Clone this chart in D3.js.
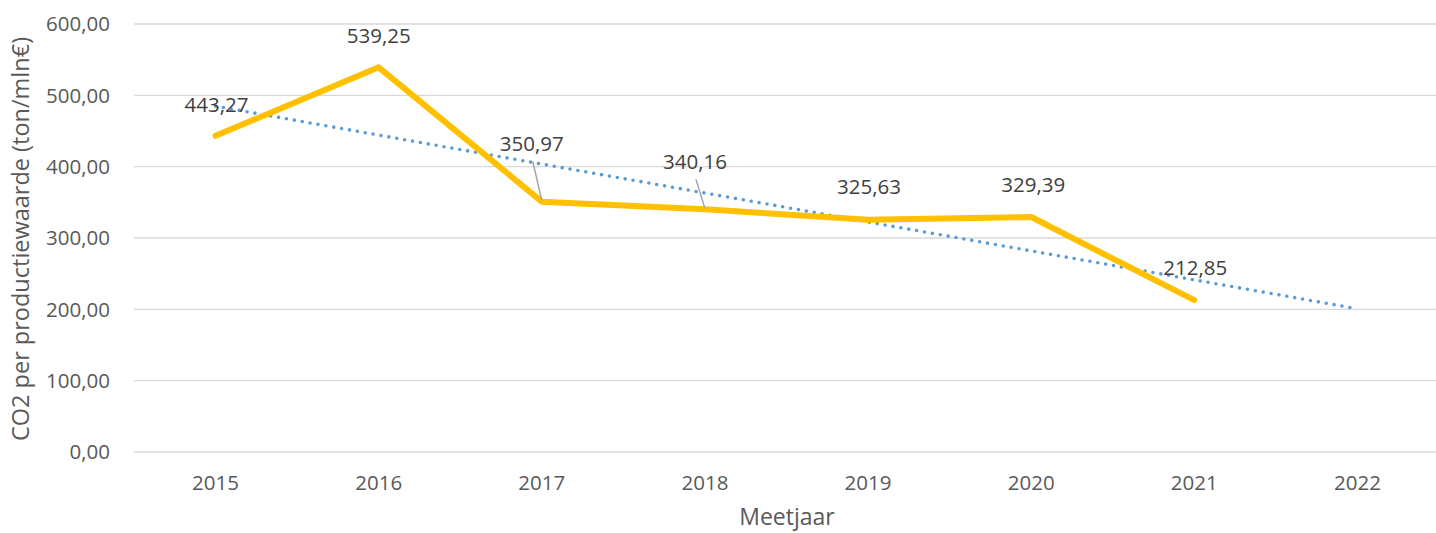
<!DOCTYPE html>
<html>
<head>
<meta charset="utf-8">
<script src="https://cdn.jsdelivr.net/npm/d3@7"></script>
<style>
  body { margin: 0; background: #fff; }
  svg text { font-family: "Open Sans", sans-serif; }
</style>
</head>
<body>
<div id="chart"></div>
<script>
(function () {

    const years = ['2015', '2016', '2017', '2018', '2019', '2020', '2021', '2022']
    const values = [443.27, 539.25, 350.97, 340.16, 325.63, 329.39, 212.85]
    const yTicks = [0, 100, 200, 300, 400, 500, 600]

    // label offsets from each point (px), with leader line for some
    const labelDx = [1, 0, -10, -10, 1, 2, 1]
    const labelDy = [-31, -32, -58, -48, -33, -32, -32]
    const leader = [false, false, true, true, false, false, false]

    const width = 1436
    const height = 533
    const margin = { top: 24, right: -3, bottom: 81, left: 134 }

    const svg = d3.select('#chart')
        .append('svg')
        .attr('width', width)
        .attr('height', height)

    const x = d3.scalePoint()
        .domain(years)
        .range([margin.left, width - margin.right])
        .padding(0.5)

    const y = d3.scaleLinear()
        .domain([0, 600])
        .range([height - margin.bottom, margin.top])

    const fmt = v => d3.format('.2f')(v).replace('.', ',')

    // gridlines
    svg.append('g')
        .selectAll('line')
        .data(yTicks)
        .join('line')
        .attr('x1', margin.left)
        .attr('x2', width - margin.right)
        .attr('y1', d => y(d))
        .attr('y2', d => y(d))
        .attr('stroke', '#d9d9d9')
        .attr('stroke-width', 1.3)

    svg.append('g')
        .selectAll('text')
        .data(yTicks)
        .join('text')
        .attr('x', margin.left - 24)
        .attr('y', d => y(d))
        .attr('dy', '0.35em')
        .attr('text-anchor', 'end')
        .attr('fill', '#595959')
        .attr('font-size', 20.5)
        .text(d => fmt(d))

    svg.append('g')
        .selectAll('text')
        .data(years)
        .join('text')
        .attr('x', d => x(d))
        .attr('y', y(0) + 38)
        .attr('text-anchor', 'middle')
        .attr('fill', '#595959')
        .attr('font-size', 20.5)
        .text(d => d)

    // trendline (least squares over the measured years)
    const xm = d3.mean(values, (d, i) => i)
    const ym = d3.mean(values)
    const slope = d3.sum(values, (d, i) => (i - xm) * (d - ym)) / d3.sum(values, (d, i) => (i - xm) ** 2)
    const trend = years.map((yr, i) => [yr, ym + slope * (i - xm)])

    svg.append('path')
        .datum(trend)
        .attr('fill', 'none')
        .attr('stroke', '#5b9bd5')
        .attr('stroke-width', 3.6)
        .attr('stroke-linecap', 'round')
        .attr('stroke-dasharray', '0 8')
        .attr('d', d3.line().x(d => x(d[0])).y(d => y(d[1])))

    const pts = values.map((v, i) => [years[i], v])

    svg.append('path')
        .datum(pts)
        .attr('fill', 'none')
        .attr('stroke', '#ffc000')
        .attr('stroke-width', 6)
        .attr('stroke-linejoin', 'round')
        .attr('stroke-linecap', 'round')
        .attr('d', d3.line().x(d => x(d[0])).y(d => y(d[1])))

    // leader lines
    svg.append('g')
        .selectAll('line')
        .data(pts.filter((d, i) => leader[i]))
        .join('line')
        .attr('x1', d => x(d[0]) + labelDx[years.indexOf(d[0])] + 1)
        .attr('y1', d => y(d[1]) + labelDy[years.indexOf(d[0])] + 18)
        .attr('x2', d => x(d[0]))
        .attr('y2', d => y(d[1]) - 1)
        .attr('stroke', '#a6a6a6')
        .attr('stroke-width', 1.5)

    svg.append('g')
        .selectAll('text')
        .data(pts)
        .join('text')
        .attr('x', (d, i) => x(d[0]) + labelDx[i])
        .attr('y', (d, i) => y(d[1]) + labelDy[i])
        .attr('dy', '0.35em')
        .attr('text-anchor', 'middle')
        .attr('fill', '#404040')
        .attr('font-size', 20.5)
        .text(d => fmt(d[1]))

    // axis titles
    svg.append('text')
        .attr('transform', `translate(29,${y(300) + 1}) rotate(-90)`)
        .attr('text-anchor', 'middle')
        .attr('fill', '#595959')
        .attr('font-size', 23.5)
        .text('CO2 per productiewaarde (ton/mln€)')

    svg.append('text')
        .attr('x', 787)
        .attr('y', 525)
        .attr('text-anchor', 'middle')
        .attr('fill', '#595959')
        .attr('font-size', 23)
        .text('Meetjaar')

})();
</script>
</body>
</html>
